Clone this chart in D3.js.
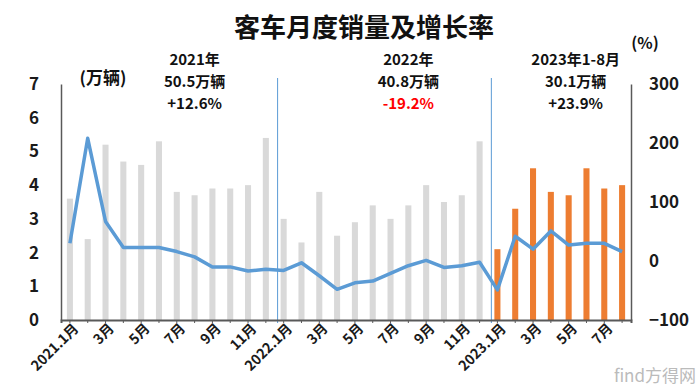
<!DOCTYPE html>
<html>
<head>
<meta charset="utf-8">
<script src="https://cdn.jsdelivr.net/npm/d3@7"></script>
<style>
  body { margin: 0; background: #fff; }
  svg text { font-family: "Noto Sans CJK SC", "Noto Sans", sans-serif; }
</style>
</head>
<body>
<div id="plot"></div>
<script>
// monthly bus sales (10k units) and yoy growth (%)
const months = [
  "2021.1","2021.2","2021.3","2021.4","2021.5","2021.6","2021.7","2021.8","2021.9","2021.10","2021.11","2021.12",
  "2022.1","2022.2","2022.3","2022.4","2022.5","2022.6","2022.7","2022.8","2022.9","2022.10","2022.11","2022.12",
  "2023.1","2023.2","2023.3","2023.4","2023.5","2023.6","2023.7","2023.8"
];
const sales = [
  3.6, 2.4, 5.2, 4.7, 4.6, 5.3, 3.8, 3.7, 3.9, 3.9, 4.0, 5.4,
  3.0, 2.3, 3.8, 2.5, 2.9, 3.4, 3.0, 3.4, 4.0, 3.5, 3.7, 5.3,
  2.1, 3.3, 4.5, 3.8, 3.7, 4.5, 3.9, 4.0
];
const growth = [
  30, 208, 67, 23, 23, 23, 16, 7, -10, -10, -17, -14,
  -16, -3, -25, -48, -37, -34, -21, -8, 1, -11, -8, -2,
  -49, 42, 20, 51, 27, 30, 30, 16
];
const tickLabels = [
  "2021.1月","","3月","","5月","","7月","","9月","","11月","",
  "2022.1月","","3月","","5月","","7月","","9月","","11月","",
  "2023.1月","","3月","","5月","","7月",""
];
const leftTicks = [0, 1, 2, 3, 4, 5, 6, 7];
const rightTicks = [-100, 0, 100, 200, 300];
const yearNotes = [
  { at: "2021.8", lines: ["2021年", "50.5万辆", "+12.6%"], neg: false },
  { at: "2022.8", lines: ["2022年", "40.8万辆", "-19.2%"], neg: true },
  { at: "2023.5", lines: ["2023年1-8月", "30.1万辆", "+23.9%"], neg: false }
];
const splits = ["2022.1", "2023.1"];

const width = 700, height = 391;
const plotL = 61, plotR = 631, plotT = 84, plotB = 320;

const svg = d3.select("#plot").append("svg")
  .attr("width", width)
  .attr("height", height);

const x = d3.scaleBand()
  .domain(months)
  .range([plotL, plotR])
  .paddingInner(0.66)
  .paddingOuter(0.33);

const y = d3.scaleLinear().domain([0, 7]).range([plotB, plotT]);
const y2 = d3.scaleLinear().domain([-100, 300]).range([plotB, plotT]);

// bars
svg.append("g")
  .selectAll("rect")
  .data(months)
  .join("rect")
  .attr("x", d => x(d))
  .attr("y", (d, i) => y(sales[i]))
  .attr("width", x.bandwidth())
  .attr("height", (d, i) => y(0) - y(sales[i]))
  .attr("fill", d => d.startsWith("2023") ? "#ed7d31" : "#d9d9d9");

// year separators
svg.append("g")
  .selectAll("line")
  .data(splits)
  .join("line")
  .attr("x1", d => x(d) - x.bandwidth() * 0.5)
  .attr("x2", d => x(d) - x.bandwidth() * 0.5)
  .attr("y1", plotT - 6)
  .attr("y2", plotB + 3)
  .attr("stroke", "#5b9bd5")
  .attr("stroke-width", 1);

// axes
const axisColor = "#595959";
svg.append("g")
  .attr("transform", `translate(${plotL},0)`)
  .call(d3.axisLeft(y).tickValues(leftTicks).tickFormat(d3.format("d")).tickSize(0).tickPadding(22))
  .call(g => g.select(".domain").attr("stroke", axisColor).attr("stroke-width", 1.5))
  .call(g => g.selectAll("text").attr("font-size", 17).attr("font-weight", "bold").attr("fill", "#1a1a1a"));

svg.append("g")
  .attr("transform", `translate(${plotR},0)`)
  .call(d3.axisRight(y2).tickValues(rightTicks).tickSize(0).tickPadding(18))
  .call(g => g.select(".domain").attr("stroke", axisColor).attr("stroke-width", 1.5))
  .call(g => g.selectAll("text").attr("font-size", 17).attr("font-weight", "bold").attr("fill", "#1a1a1a"));

svg.append("g")
  .attr("transform", `translate(0,${plotB})`)
  .call(d3.axisBottom(x).tickSize(3).tickFormat((d, i) => tickLabels[i]))
  .call(g => g.select(".domain").attr("stroke", axisColor).attr("stroke-width", 2))
  .call(g => g.selectAll(".tick line").attr("stroke", axisColor))
  .call(g => g.selectAll("text")
    .attr("font-size", 14).attr("font-weight", "bold").attr("fill", "#1a1a1a")
    .attr("text-anchor", "end")
    .attr("transform", "translate(6,6) rotate(-45)")
    .attr("dy", "0.35em")
    .attr("y", 0).attr("x", 0));

// growth line
const line = d3.line()
  .x((d, i) => x(months[i]) + x.bandwidth() / 2)
  .y(d => y2(d));

svg.append("path")
  .datum(growth)
  .attr("d", line)
  .attr("fill", "none")
  .attr("stroke", "#5b9bd5")
  .attr("stroke-width", 3.5)
  .attr("stroke-linejoin", "round");

// title and notes
svg.append("text")
  .attr("x", 364).attr("y", 37)
  .attr("text-anchor", "middle")
  .attr("font-size", 26).attr("font-weight", "bold").attr("fill", "#111")
  .text("客车月度销量及增长率");

svg.append("text")
  .attr("x", 103).attr("y", 84)
  .attr("text-anchor", "middle")
  .attr("font-size", 17).attr("font-weight", "bold").attr("fill", "#111")
  .text("(万辆)");

svg.append("text")
  .attr("x", 645).attr("y", 49)
  .attr("text-anchor", "middle")
  .attr("font-size", 16).attr("font-weight", "bold").attr("fill", "#111")
  .text("(%)");

yearNotes.forEach((n, k) => {
  const cx = x(n.at) + x.bandwidth() / 2 + (k === 2 ? 7 : 0);
  n.lines.forEach((s, i) => {
    svg.append("text")
      .attr("text-anchor", "middle")
      .attr("font-size", 15).attr("font-weight", "bold")
      .attr("x", cx)
      .attr("y", 65 + i * 21.8)
      .attr("fill", i === 2 && n.neg ? "#ff0000" : "#111")
      .text(s);
  });
});

// corner logo
svg.append("text")
  .attr("x", 696).attr("y", 382)
  .attr("text-anchor", "end")
  .attr("font-size", 17).attr("fill", "#bbb")
  .text("find方得网");
</script>
</body>
</html>
